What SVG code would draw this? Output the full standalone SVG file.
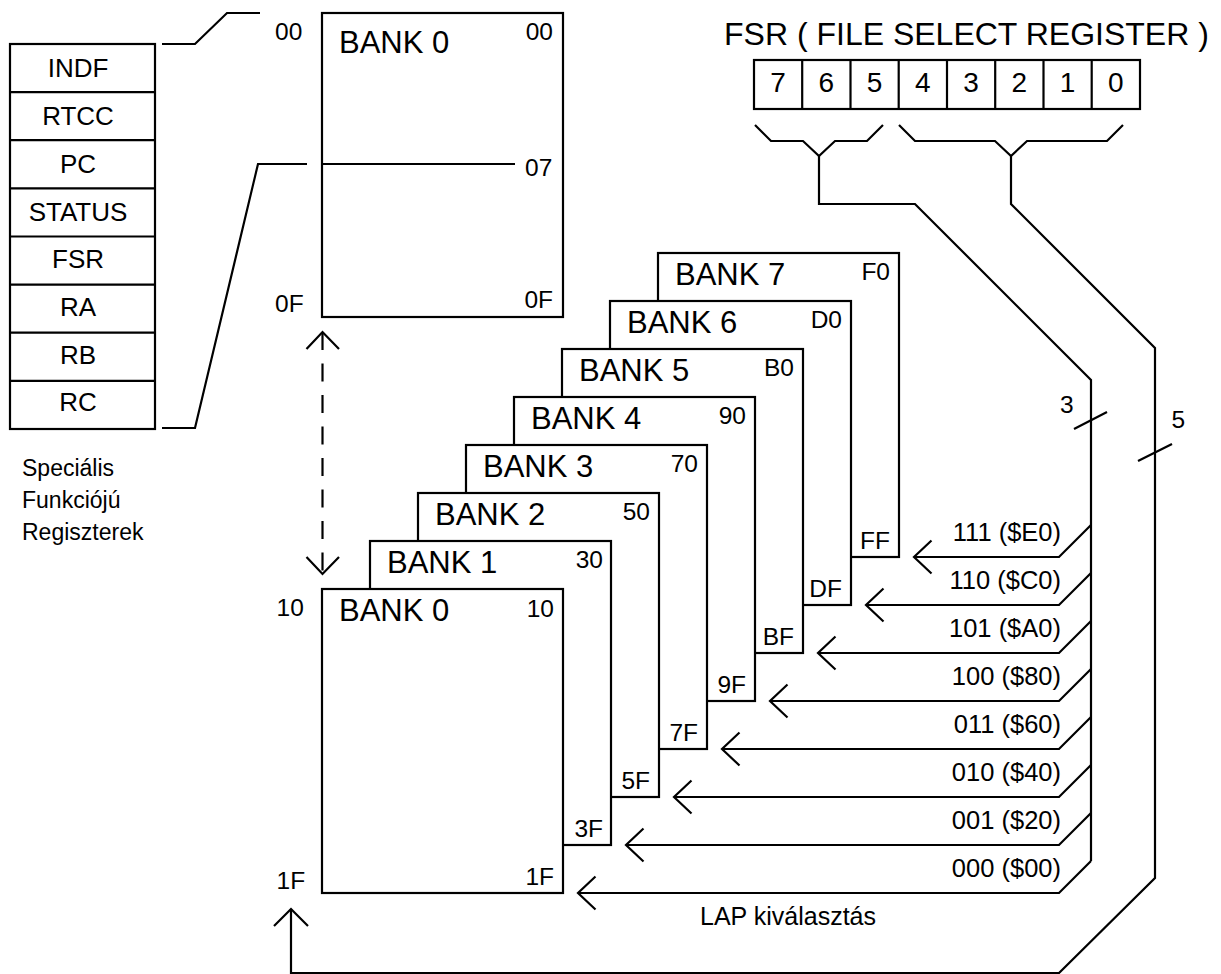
<svg xmlns="http://www.w3.org/2000/svg" width="1221" height="974" viewBox="0 0 1221 974">
<style>
text{font-family:"Liberation Sans",Arial,sans-serif;fill:#000}
.ln{fill:none;stroke:#000;stroke-width:2.2;stroke-linejoin:miter}
.box{fill:#fff;stroke:#000;stroke-width:2.2}
.reg{font-size:26px;text-anchor:middle}
.bank{font-size:31px}
.hex{font-size:24.5px}
.hr{font-size:24.5px;text-anchor:end}
.sel{font-size:25.5px;text-anchor:end}
.bit{font-size:28px;text-anchor:middle}
</style>
<rect width="1221" height="974" fill="#fff"/>

<g id="sfr">
<rect class="box" x="10" y="44" width="145" height="385"/>
<path class="ln" d="M10 92.1H155M10 140.2H155M10 188.4H155M10 236.5H155M10 284.6H155M10 332.7H155M10 380.9H155"/>
<text class="reg" x="78" y="77">INDF</text>
<text class="reg" x="78" y="125">RTCC</text>
<text class="reg" x="78" y="173">PC</text>
<text class="reg" x="78" y="220.5">STATUS</text>
<text class="reg" x="78" y="268">FSR</text>
<text class="reg" x="78" y="316">RA</text>
<text class="reg" x="78" y="364">RB</text>
<text class="reg" x="78" y="411">RC</text>
</g>

<g id="sfr-caption" font-size="23">
<text x="22" y="476">Speciális</text>
<text x="22" y="508">Funkciójú</text>
<text x="22" y="540">Regiszterek</text>
</g>

<g id="bank0-top">
<rect class="box" x="322" y="13" width="241" height="304"/>
<line class="ln" x1="322" y1="164" x2="515" y2="164"/>
<text class="bank" x="339" y="53">BANK 0</text>
<text class="hr" x="553" y="40">00</text>
<text class="hex" x="525" y="176">07</text>
<text class="hr" x="553" y="308">0F</text>
<text class="hex" x="275" y="39.5">00</text>
<text class="hex" x="275" y="312">0F</text>
</g>

<g id="bank7">
<rect class="box" x="658" y="253" width="241" height="304"/>
<text class="bank" x="675" y="285">BANK 7</text>
<text class="hr" x="890" y="280">F0</text>
<text class="hr" x="890" y="549">FF</text>
</g>
<g id="bank6">
<rect class="box" x="610" y="301" width="241" height="304"/>
<text class="bank" x="627" y="333">BANK 6</text>
<text class="hr" x="842" y="328">D0</text>
<text class="hr" x="842" y="597">DF</text>
</g>
<g id="bank5">
<rect class="box" x="562" y="349" width="241" height="304"/>
<text class="bank" x="579" y="381">BANK 5</text>
<text class="hr" x="794" y="376">B0</text>
<text class="hr" x="794" y="645">BF</text>
</g>
<g id="bank4">
<rect class="box" x="514" y="397" width="241" height="304"/>
<text class="bank" x="531" y="429">BANK 4</text>
<text class="hr" x="746" y="424">90</text>
<text class="hr" x="746" y="693">9F</text>
</g>
<g id="bank3">
<rect class="box" x="466" y="445" width="241" height="304"/>
<text class="bank" x="483" y="477">BANK 3</text>
<text class="hr" x="698" y="472">70</text>
<text class="hr" x="698" y="741">7F</text>
</g>
<g id="bank2">
<rect class="box" x="418" y="493" width="241" height="304"/>
<text class="bank" x="435" y="525">BANK 2</text>
<text class="hr" x="650" y="520">50</text>
<text class="hr" x="650" y="789">5F</text>
</g>
<g id="bank1">
<rect class="box" x="370" y="541" width="241" height="304"/>
<text class="bank" x="387" y="573">BANK 1</text>
<text class="hr" x="603" y="568">30</text>
<text class="hr" x="603" y="837">3F</text>
</g>
<g id="bank0">
<rect class="box" x="322" y="589" width="241" height="304"/>
<text class="bank" x="339" y="621">BANK 0</text>
<text class="hr" x="554" y="616.5">10</text>
<text class="hr" x="554" y="885">1F</text>
<text class="hex" x="276.5" y="616">10</text>
<text class="hex" x="276.5" y="888.5">1F</text>
</g>

<g id="fsr">
<text x="724" y="45" font-size="32">FSR ( FILE SELECT REGISTER )</text>
<rect class="box" x="754" y="60" width="386" height="49"/>
<path class="ln" d="M802.2 60V109M850.5 60V109M898.7 60V109M947 60V109M995.2 60V109M1043.5 60V109M1091.7 60V109"/>
<text class="bit" x="778.1" y="91.5">7</text>
<text class="bit" x="826.4" y="91.5">6</text>
<text class="bit" x="874.6" y="91.5">5</text>
<text class="bit" x="922.9" y="91.5">4</text>
<text class="bit" x="971.1" y="91.5">3</text>
<text class="bit" x="1019.4" y="91.5">2</text>
<text class="bit" x="1067.6" y="91.5">1</text>
<text class="bit" x="1115.9" y="91.5">0</text>
</g>

<g id="selectors">
<text class="sel" x="1061" y="541">111 ($E0)</text>
<text class="sel" x="1061" y="589">110 ($C0)</text>
<text class="sel" x="1061" y="637">101 ($A0)</text>
<text class="sel" x="1061" y="685">100 ($80)</text>
<text class="sel" x="1061" y="733">011 ($60)</text>
<text class="sel" x="1061" y="781">010 ($40)</text>
<text class="sel" x="1061" y="829">001 ($20)</text>
<text class="sel" x="1061" y="877">000 ($00)</text>
<text x="876" y="925" font-size="25" text-anchor="end">LAP kiválasztás</text>
<text x="1060" y="413" font-size="24.5">3</text>
<text x="1171.5" y="428" font-size="24.5">5</text>
</g>

<g id="connectors">
<polyline class="ln" points="162,44 195,44 227,13 260,13"/>
<polyline class="ln" points="307,164 258,164 195,428 162,428"/>
<line class="ln" x1="322.5" y1="332" x2="322.5" y2="574" stroke-dasharray="18 13.5"/>
<polyline class="ln" points="306.5,349 322.5,332 339,349"/>
<polyline class="ln" points="306.5,557 322.5,574 339,557"/>
<polyline class="ln" points="755,125 771,141 803,141 819,156 835,141 867,141 883,125"/>
<polyline class="ln" points="899,125 915,141 995,141 1011,156 1027,141 1107,141 1123,125"/>
<polyline class="ln" points="819,156 819,204 915,204 1091,380 1091,861"/>
<polyline class="ln" points="1011,156 1011,204 1155,348 1155,878 1059,973 291,973 291,909"/>
<polyline class="ln" points="274,926 291,909 308,926"/>
<line class="ln" x1="1074" y1="429" x2="1107" y2="412"/>
<line class="ln" x1="1138" y1="461" x2="1172" y2="444"/>
<polyline class="ln" points="1091,525 1059,557 914,557"/>
<polyline class="ln" points="931.5,540.5 914,557 931.5,573.5"/>
<polyline class="ln" points="1091,573 1059,605 866,605"/>
<polyline class="ln" points="883.5,588.5 866,605 883.5,621.5"/>
<polyline class="ln" points="1091,621 1059,653 818,653"/>
<polyline class="ln" points="835.5,636.5 818,653 835.5,669.5"/>
<polyline class="ln" points="1091,669 1059,701 770,701"/>
<polyline class="ln" points="787.5,684.5 770,701 787.5,717.5"/>
<polyline class="ln" points="1091,717 1059,749 722,749"/>
<polyline class="ln" points="739.5,732.5 722,749 739.5,765.5"/>
<polyline class="ln" points="1091,765 1059,797 674,797"/>
<polyline class="ln" points="691.5,780.5 674,797 691.5,813.5"/>
<polyline class="ln" points="1091,813 1059,845 626,845"/>
<polyline class="ln" points="643.5,828.5 626,845 643.5,861.5"/>
<polyline class="ln" points="1091,861 1059,893 578,893"/>
<polyline class="ln" points="595.5,876.5 578,893 595.5,909.5"/>
</g>
</svg>
